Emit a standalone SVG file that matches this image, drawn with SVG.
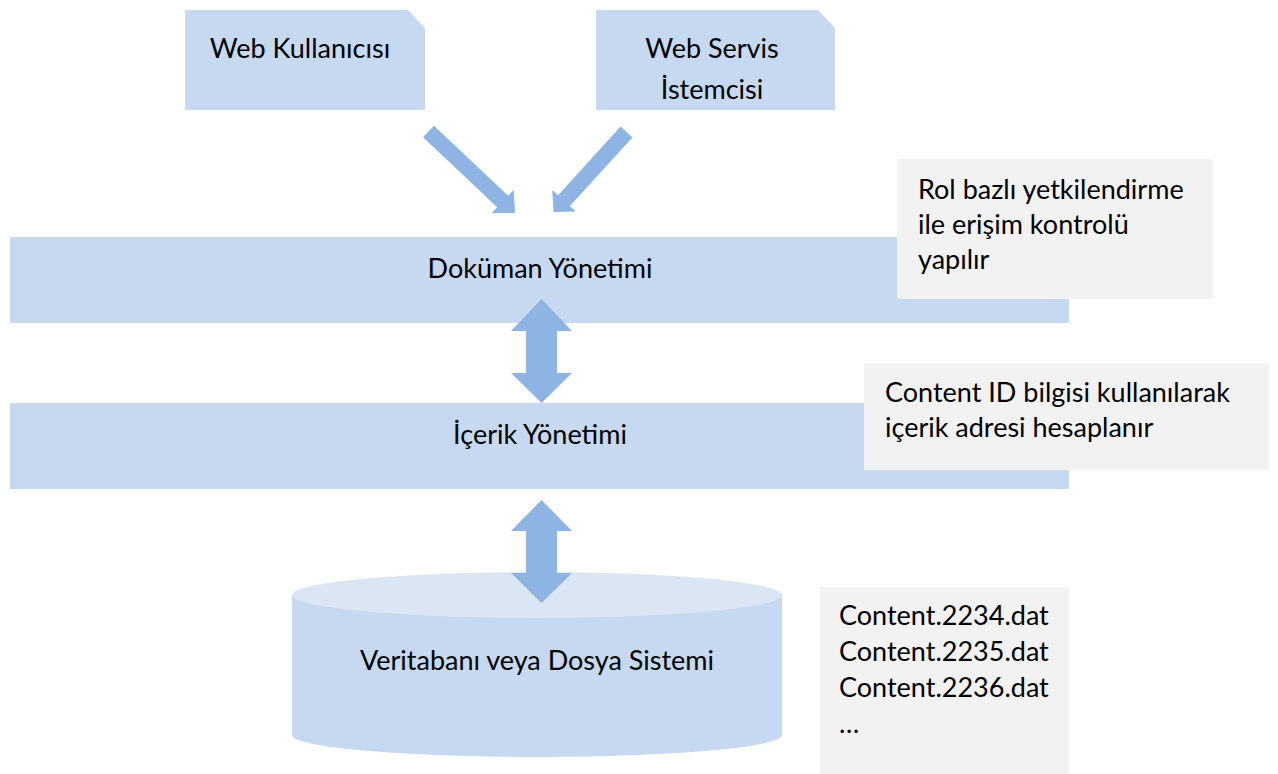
<svg xmlns="http://www.w3.org/2000/svg" width="1278" height="774" viewBox="0 0 1278 774">
<style>
.box{fill:#C6D9F1}
.note{fill:#F2F2F2}
.arr{fill:#8EB4E3}
text{font-family:Lato,"Open Sans","Liberation Sans",sans-serif;font-size:27px;fill:#000}
.c{text-anchor:middle}
</style>
<defs>
<polygon id="diag" points="0,-8 102,-8 102,-16 119,0 102,16 102,8 0,8"/>
</defs>
<rect width="1278" height="774" fill="#fff"/>
<g id="web-kullanici">
<path class="box" d="M185,10 H408 L425,28 V110 H185 Z"/>
<text class="c" x="300" y="58">Web Kullanıcısı</text>
</g>
<g id="web-servis">
<path class="box" d="M596,10 H818 L835,28 V110 H596 Z"/>
<text class="c" x="712" y="58">Web Servis</text>
<text class="c" x="712" y="99">İstemcisi</text>
</g>
<g id="dokuman">
<rect class="box" x="10" y="237" width="1059" height="86"/>
<text class="c" x="540" y="278">Doküman Yönetimi</text>
</g>
<g id="icerik">
<rect class="box" x="10" y="403" width="1059" height="86"/>
<text class="c" x="540" y="444">İçerik Yönetimi</text>
</g>
<g id="veritabani">
<path fill="#C6D9F1" d="M292,595 V735 A245,22 0 0 0 782,735 V595 Z"/>
<ellipse cx="537" cy="595" rx="245" ry="23" fill="#DBE6F4"/>
<text class="c" x="537" y="670">Veritabanı veya Dosya Sistemi</text>
</g>
<g id="note-rol">
<rect class="note" x="897" y="159" width="316" height="140"/>
<text x="918" y="199">Rol bazlı yetkilendirme</text>
<text x="918" y="234">ile erişim kontrolü</text>
<text x="918" y="269">yapılır</text>
</g>
<g id="note-content">
<rect class="note" x="864" y="363" width="405" height="107"/>
<text x="885" y="402">Content ID bilgisi kullanılarak</text>
<text x="885" y="437">içerik adresi hesaplanır</text>
</g>
<g id="note-files">
<rect class="note" x="820" y="587" width="249" height="187"/>
<text x="839" y="625">Content.2234.dat</text>
<text x="839" y="661">Content.2235.dat</text>
<text x="839" y="697">Content.2236.dat</text>
<text x="839" y="733">…</text>
</g>
<g id="connectors">
<use href="#diag" class="arr" transform="translate(428.5,131.5) rotate(43.3)"/>
<use href="#diag" class="arr" transform="translate(626.5,132) rotate(132.3) scale(0.91,1)"/>
<polygon class="arr" points="541.5,299 572,331 557,331 557,373 572,373 541.5,403 511,373 526,373 526,331 511,331"/>
<polygon class="arr" points="541.5,500 572,531 557,531 557,573 572,573 541.5,603 511,573 526,573 526,531 511,531"/>
</g>
</svg>
